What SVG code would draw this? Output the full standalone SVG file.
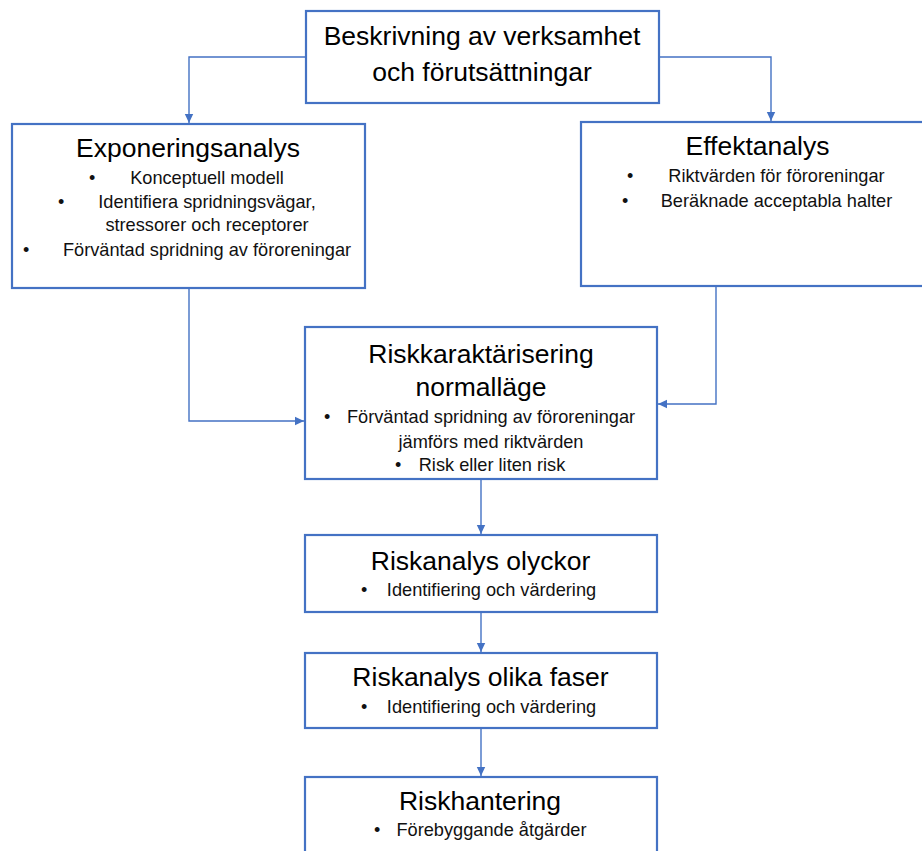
<svg xmlns="http://www.w3.org/2000/svg" width="922" height="851" viewBox="0 0 922 851">
<style>
.box{fill:#fff;stroke:#4472C4;stroke-width:2.2}
.t{font-family:"Liberation Sans",Arial,sans-serif;font-size:26.5px;fill:#000;text-anchor:middle}
.b{font-family:"Liberation Sans",Arial,sans-serif;font-size:18.2px;fill:#111;text-anchor:middle}
.d{font-family:"Liberation Sans",Arial,sans-serif;font-size:18px;fill:#111}
.c{fill:none;stroke:#4472C4;stroke-width:1.4}
</style>
<defs>
<marker id="ah" markerUnits="userSpaceOnUse" markerWidth="10" markerHeight="10" refX="9" refY="5" orient="auto">
<path d="M0,0.8 L9,5 L0,9.2 z" fill="#4472C4"/>
</marker>
</defs>
<rect width="922" height="851" fill="#fff"/>
<g id="connectors">
<path class="c" d="M306,57 H189 V123" marker-end="url(#ah)"/>
<path class="c" d="M659,57 H771 V121" marker-end="url(#ah)"/>
<path class="c" d="M189,288 V421 H304" marker-end="url(#ah)"/>
<path class="c" d="M716,286 V404 H658" marker-end="url(#ah)"/>
<path class="c" d="M481,480 V534" marker-end="url(#ah)"/>
<path class="c" d="M481,613 V652" marker-end="url(#ah)"/>
<path class="c" d="M481,729 V776" marker-end="url(#ah)"/>
</g>
<g id="beskrivning">
<rect class="box" x="306" y="11" width="353" height="92"/>
<text class="t" x="482" y="45" font-size="27">Beskrivning av verksamhet</text>
<text class="t" x="482" y="80.5" font-size="27">och förutsättningar</text>
</g>
<g id="exponeringsanalys">
<rect class="box" x="12" y="124" width="353" height="164"/>
<text class="t" x="188" y="157">Exponeringsanalys</text>
<text class="d" x="89" y="184">•</text>
<text class="b" x="207" y="184">Konceptuell modell</text>
<text class="d" x="58" y="208">•</text>
<text class="b" x="207" y="208">Identifiera spridningsvägar,</text>
<text class="b" x="207" y="231">stressorer och receptorer</text>
<text class="d" x="23" y="256">•</text>
<text class="b" x="207" y="256">Förväntad spridning av föroreningar</text>
</g>
<g id="effektanalys">
<rect class="box" x="581" y="122" width="360" height="164"/>
<text class="t" x="757.5" y="155">Effektanalys</text>
<text class="d" x="627" y="182">•</text>
<text class="b" x="776.5" y="182">Riktvärden för föroreningar</text>
<text class="d" x="622" y="207">•</text>
<text class="b" x="776.5" y="207">Beräknade acceptabla halter</text>
</g>
<g id="riskkaraktarisering">
<rect class="box" x="305" y="327" width="352" height="152"/>
<text class="t" x="481" y="363">Riskkaraktärisering</text>
<text class="t" x="481" y="396">normalläge</text>
<text class="d" x="324" y="423">•</text>
<text class="b" x="491" y="423">Förväntad spridning av föroreningar</text>
<text class="b" x="491" y="448">jämförs med riktvärden</text>
<text class="d" x="395" y="471">•</text>
<text class="b" x="492" y="471">Risk eller liten risk</text>
</g>
<g id="riskanalys-olyckor">
<rect class="box" x="305" y="535" width="352" height="77"/>
<text class="t" x="480.5" y="570">Riskanalys olyckor</text>
<text class="d" x="361" y="596">•</text>
<text class="b" x="491.5" y="596">Identifiering och värdering</text>
</g>
<g id="riskanalys-faser">
<rect class="box" x="305" y="653" width="352" height="75"/>
<text class="t" x="480.5" y="686">Riskanalys olika faser</text>
<text class="d" x="361" y="713">•</text>
<text class="b" x="491.5" y="713">Identifiering och värdering</text>
</g>
<g id="riskhantering">
<rect class="box" x="305" y="777" width="352" height="90"/>
<text class="t" x="480" y="810">Riskhantering</text>
<text class="d" x="374" y="836">•</text>
<text class="b" x="491.5" y="836">Förebyggande åtgärder</text>
</g>
</svg>
